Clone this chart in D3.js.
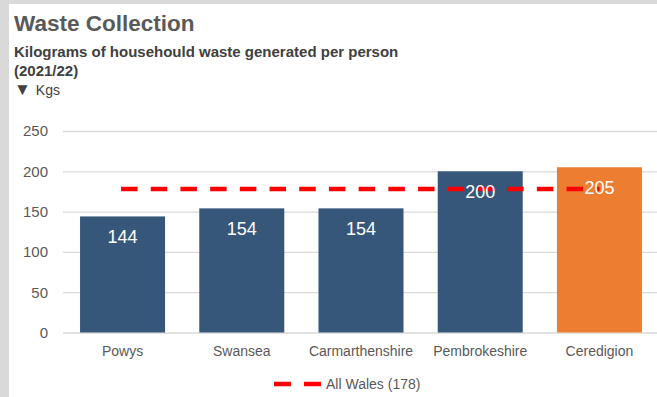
<!DOCTYPE html>
<html>
<head>
<meta charset="utf-8">
<script src="https://cdn.jsdelivr.net/npm/d3@7"></script>
<style>
  body { margin: 0; background: #d9d9d9; }
  svg { display: block; }
</style>
</head>
<body>
<div id="chart"></div>
<script>
// chart data
var categories = ["Powys", "Swansea", "Carmarthenshire", "Pembrokeshire", "Ceredigion"];
var kgsPerPerson = [144, 154, 154, 200, 205];
var highlighted = ["Ceredigion"];
var allWales = 178;
var yTicks = [0, 50, 100, 150, 200, 250];

var width = 657, height = 397;
var colors = { bar: "#36577a", highlight: "#ed7d31", avg: "#ff0000", grid: "#d9d9d9", text: "#595959" };
var font = "Liberation Sans, Arial, sans-serif";

var svg = d3.select("#chart").append("svg")
    .attr("width", width)
    .attr("height", height);

// white panel on grey page
svg.append("rect")
    .attr("x", 9).attr("y", 4)
    .attr("width", width - 9).attr("height", height - 4)
    .attr("fill", "#fff");

// titles
svg.append("text")
    .attr("x", 14).attr("y", 31)
    .style("font-family", font)
    .style("font-weight", "bold")
    .style("font-size", "22.5px")
    .style("fill", colors.text)
    .text("Waste Collection");

svg.append("text")
    .attr("x", 14).attr("y", 57)
    .style("font-family", font)
    .style("font-weight", "bold")
    .style("font-size", "15px")
    .style("fill", "#404040")
    .text("Kilograms of househould waste generated per person");

svg.append("text")
    .attr("x", 14).attr("y", 76)
    .style("font-family", font)
    .style("font-weight", "bold")
    .style("font-size", "15px")
    .style("fill", "#404040")
    .text("(2021/22)");

var unit = svg.append("text")
    .attr("x", 14).attr("y", 95)
    .style("font-family", font)
    .style("font-size", "14px")
    .style("fill", "#404040");
unit.append("tspan").style("font-size", "17px").text("\u25BC");
unit.append("tspan").attr("dx", 5).text("Kgs");

// scales
var x = d3.scaleBand()
    .domain(categories)
    .range([63, 659])
    .paddingInner(0.287)
    .paddingOuter(0.143);

var y = d3.scaleLinear()
    .domain([0, 250])
    .range([332.5, 131]);

// y axis + gridlines
var yAxis = svg.append("g")
    .attr("transform", "translate(63,0)")
    .call(d3.axisLeft(y).tickValues(yTicks).tickSizeInner(-(width - 63)).tickSizeOuter(0).tickPadding(15));
yAxis.select(".domain").remove();
yAxis.selectAll("line").attr("stroke", colors.grid).attr("stroke-width", 1.3);
yAxis.selectAll("text")
    .style("font-family", font)
    .style("font-size", "15px")
    .style("fill", colors.text);

// x axis labels
var xAxis = svg.append("g")
    .attr("transform", "translate(0," + y(0) + ")")
    .call(d3.axisBottom(x).tickSize(0).tickPadding(13.5));
xAxis.select(".domain").remove();
xAxis.selectAll("text")
    .style("font-family", font)
    .style("font-size", "14px")
    .style("fill", colors.text);

var data = categories.map(function(c, i) { return { name: c, value: kgsPerPerson[i] }; });

// bars
svg.selectAll(".bar")
    .data(data)
    .enter().append("rect")
    .attr("class", "bar")
    .attr("x", function(d) { return x(d.name); })
    .attr("y", function(d) { return y(d.value); })
    .attr("width", x.bandwidth())
    .attr("height", function(d) { return y(0) - y(d.value); })
    .attr("fill", function(d) { return highlighted.indexOf(d.name) >= 0 ? colors.highlight : colors.bar; });

// all wales average line
var half = x.bandwidth() / 2;
svg.append("line")
    .attr("x1", x(categories[0]) + half - 1.5)
    .attr("x2", x(categories[categories.length - 1]) + half)
    .attr("y1", y(allWales)).attr("y2", y(allWales))
    .attr("stroke", colors.avg)
    .attr("stroke-width", 4.5)
    .attr("stroke-dasharray", "16.5,13.2");

// value labels
svg.selectAll(".val")
    .data(data)
    .enter().append("text")
    .attr("class", "val")
    .attr("x", function(d) { return x(d.name) + half; })
    .attr("y", function(d) { return y(d.value) + 20; })
    .attr("dy", "0.36em")
    .attr("text-anchor", "middle")
    .style("font-family", font)
    .style("font-size", "18px")
    .style("fill", "#fff")
    .text(function(d) { return d.value; });

// legend
var legend = svg.append("g").attr("transform", "translate(274,384)");
legend.append("line")
    .attr("x1", 0).attr("x2", 47)
    .attr("stroke", colors.avg)
    .attr("stroke-width", 4.5)
    .attr("stroke-dasharray", "17,13");
legend.append("text")
    .attr("x", 52).attr("dy", "0.35em")
    .style("font-family", font)
    .style("font-size", "14px")
    .style("fill", colors.text)
    .text("All Wales (" + allWales + ")");
</script>
</body>
</html>
